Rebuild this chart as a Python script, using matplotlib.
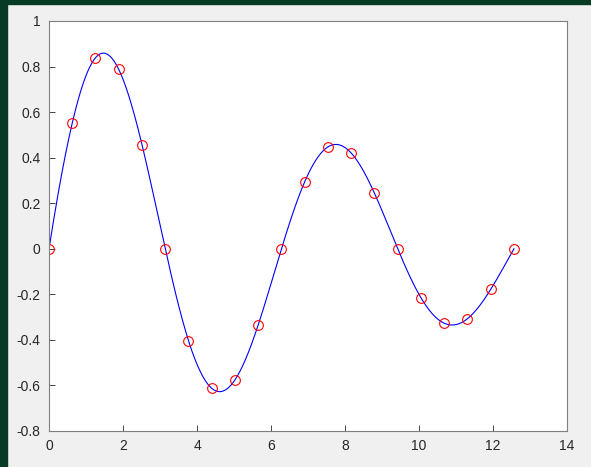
import numpy as np
import matplotlib.pyplot as plt
from matplotlib.patches import Rectangle

# sample points (x = k*pi/5)
x = np.arange(21) * np.pi / 5
y = np.array([0.0, 0.5520, 0.8388, 0.7877, 0.4572, 0.0, -0.4032, -0.6127,
              -0.5754, -0.3339, 0.0, 0.2945, 0.4475, 0.4203, 0.2439, 0.0,
              -0.2151, -0.3269, -0.3070, -0.1782, 0.0])

xticks = [0, 2, 4, 6, 8, 10, 12, 14]
yticks = [-0.8, -0.6, -0.4, -0.2, 0, 0.2, 0.4, 0.6, 0.8, 1]


def spline_curve(xs, ys, num=400):
    # not-a-knot cubic spline, uniform spacing
    n = len(xs)
    h = xs[1] - xs[0]
    A = np.zeros((n, n))
    b = np.zeros(n)
    A[0, :3] = [1, -2, 1]
    A[-1, -3:] = [1, -2, 1]
    for i in range(1, n - 1):
        A[i, i - 1:i + 2] = [1, 4, 1]
        b[i] = 6 / h**2 * (ys[i - 1] - 2 * ys[i] + ys[i + 1])
    M = np.linalg.solve(A, b)
    xx = np.linspace(xs[0], xs[-1], num)
    idx = np.clip(((xx - xs[0]) // h).astype(int), 0, n - 2)
    t0 = xs[idx]
    t1 = xs[idx + 1]
    yy = (M[idx] * (t1 - xx)**3 + M[idx + 1] * (xx - t0)**3) / (6 * h) \
        + (ys[idx] / h - M[idx] * h / 6) * (t1 - xx) \
        + (ys[idx + 1] / h - M[idx + 1] * h / 6) * (xx - t0)
    return xx, yy


plt.rcParams['font.family'] = ['Liberation Sans', 'DejaVu Sans']

fig = plt.figure(figsize=(5.91, 4.67), dpi=100, facecolor='#f0f0f0')
fig.patches.append(Rectangle((0, 0), 7 / 591, 1, transform=fig.transFigure,
                             color='#073b24', zorder=0))
fig.patches.append(Rectangle((0, 1 - 4 / 467), 1, 4 / 467, transform=fig.transFigure,
                             color='#073b24', zorder=0))

ax = fig.add_axes([49 / 591, 1 - 431 / 467, (567 - 49) / 591, (431 - 21) / 467])

xx, yy = spline_curve(x, y)
ax.plot(xx, yy, color='#0000ff', lw=0.8)
ax.plot(x, y, 'o', mfc='none', mec='#ff0000', ms=7, mew=0.8)

ax.set_xlim(0, 14)
ax.set_ylim(-0.8, 1)
ax.set_xticks(xticks)
ax.set_yticks(yticks)
ax.set_yticklabels([f'{v:g}' for v in yticks])
ax.tick_params(direction='in', length=4, width=0.6, colors='#262626',
               labelsize=10, pad=6)
for s in ax.spines.values():
    s.set_color('#7f7f7f')
    s.set_linewidth(0.8)

fig.savefig('out.png', dpi=100, facecolor=fig.get_facecolor())
